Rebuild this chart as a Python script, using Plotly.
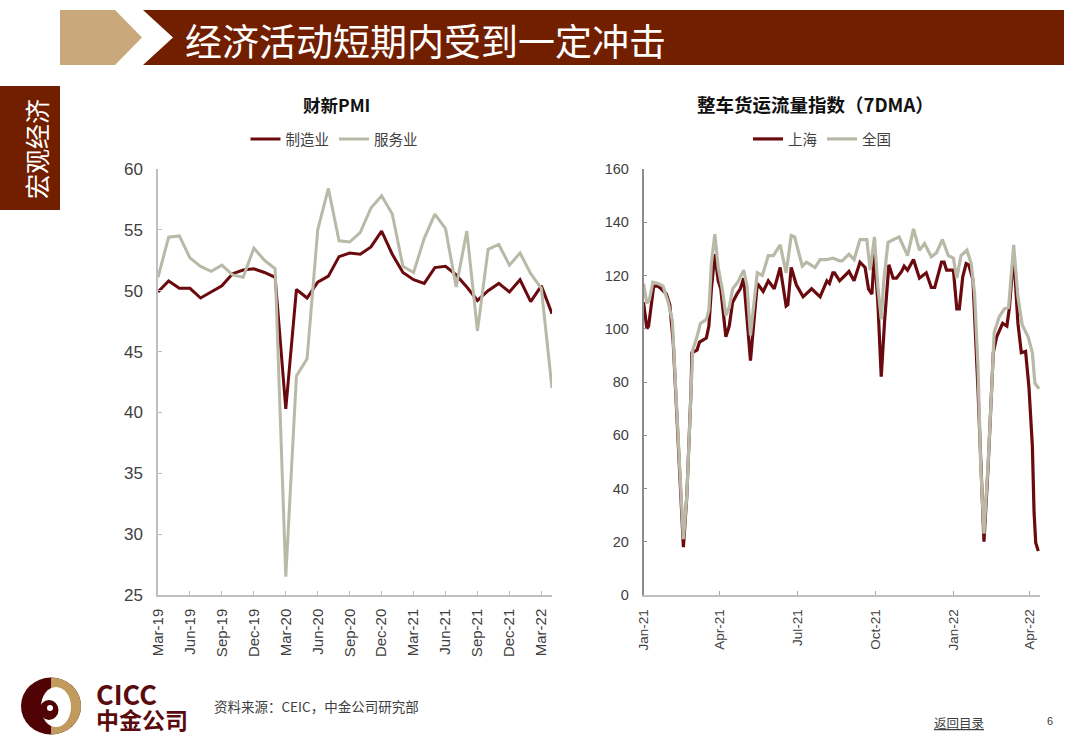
import math
import pandas as pd
import plotly.graph_objects as go

W, H = 1080, 755

# ---------- left chart data ----------
pmi_months = ["Mar-19","Apr-19","May-19","Jun-19","Jul-19","Aug-19","Sep-19","Oct-19","Nov-19","Dec-19",
              "Jan-20","Feb-20","Mar-20","Apr-20","May-20","Jun-20","Jul-20","Aug-20","Sep-20","Oct-20",
              "Nov-20","Dec-20","Jan-21","Feb-21","Mar-21","Apr-21","May-21","Jun-21","Jul-21","Aug-21",
              "Sep-21","Oct-21","Nov-21","Dec-21","Jan-22","Feb-22","Mar-22","Apr-22"]
pmi_manufacturing = [49.9,50.8,50.2,50.2,49.4,49.9,50.4,51.4,51.7,51.8,51.5,51.1,40.3,50.1,49.4,50.7,51.2,52.8,53.1,
                     53.0,53.6,54.9,53.0,51.5,50.9,50.6,51.9,52.0,51.3,50.3,49.2,50.0,50.6,49.9,50.9,49.1,50.4,48.1]
pmi_services = [51.1,54.4,54.5,52.7,52.0,51.6,52.1,51.3,51.1,53.5,52.5,51.8,26.5,43.0,44.4,55.0,58.4,54.1,54.0,
                54.8,56.8,57.8,56.3,52.0,51.5,54.3,56.3,55.1,50.3,54.9,46.7,53.4,53.8,52.1,53.1,51.4,50.2,42.0]
pmi_ticks = pmi_months[0:37:3]

# ---------- right chart data (days since 2021-01-01) ----------
sh_days = [0,4,6,9,12,17,21,27,31,35,38,41,44,47,51,54,56,57,63,66,74,77,80,84,88,91,97,101,105,110,114,118,121,126,
           134,141,147,154,161,168,170,174,180,188,198,208,216,219,223,225,231,242,248,255,261,265,269,272,276,280,284,
           289,294,298,304,307,311,318,325,333,339,343,351,354,357,365,369,372,376,380,383,388,394,397,401,406,410,
           412,416,423,428,431,436,441,445,450,454,458,460,462,465]
sh_vals = [110,100,101,109,116,116,115,113,109,95,77,59,39,18,37,58,77,91,92,95,96.5,101,115,128,118,115,97,101,110,113,115,
           119,107,88,117,114,118,115,123,108.5,109,123,116.5,112,115,112,118,117,121,121,118,121.5,118,125,123,115,113,
           128,110,82,103,124,119,119,121.5,123.5,122,126,119,121,115.5,115.5,125,125,122,122,107.5,107.5,119.5,124.5,124,118.5,
           77,49,20,49,77,91,97,102,101,108,128,102,91,91.5,78,56,31,19.5,16.5]
nat_days = [0,4,7,11,17,23,29,34,38,41,44,47,51,54,56,58,63,67,74,77,80,84,88,93,97,101,105,111,118,122,126,134,140,147,
            153,161,168,174,178,187,192,202,208,216,223,231,234,242,248,255,263,267,272,276,280,283,288,294,301,311,318,
            325,331,339,345,352,359,365,369,374,381,386,390,394,397,401,406,410,413,419,425,430,436,441,446,453,458,461,466]
nat_vals = [117,109.5,111,117.5,117,116,110,103,77,59.5,39.5,21,37,58,77,92,97,102,103.5,107,124.5,135.5,123,114.5,105,108,115,
            117.5,122,116,97.5,121,120,127.5,127.5,131.5,121,135,134.5,123.5,125,123,126,126,126.5,125.5,125.5,128,126,133.5,
            133.5,122,134.5,116,103.5,118,132.5,133.5,134.5,127.5,137.5,129.5,132,127,128.5,133.5,127.5,126.5,119,127.5,129.5,
            124.5,113,85.5,50,23,50,77,98.5,104.5,107.5,108,131.5,112,101.5,97,91,79.5,77.5]
freight_tick_dates = ["2021-01-01","2021-04-01","2021-07-01","2021-10-01","2022-01-01","2022-04-01"]
freight_tick_labels = ["Jan-21","Apr-21","Jul-21","Oct-21","Jan-22","Apr-22"]

day0 = pd.Timestamp("2021-01-01")
sh_dates = [day0 + pd.Timedelta(days=d) for d in sh_days]
nat_dates = [day0 + pd.Timedelta(days=d) for d in nat_days]

# ---------- colours / fonts ----------
MAROON = "#6B0A0E"
GREY = "#B9B9A8"
BANNER = "#721F00"
TAN = "#C9A97C"
CJK = "Noto Sans CJK SC"
LAT = "Liberation Sans"
TXT = "#404040"

def px(x): return x / W
def py(y): return 1 - y / H

fig = go.Figure()
fig.add_trace(go.Scatter(x=pmi_months, y=pmi_manufacturing, mode="lines", name="制造业",
                         line=dict(color=MAROON, width=3), xaxis="x", yaxis="y", legend="legend"))
fig.add_trace(go.Scatter(x=pmi_months, y=pmi_services, mode="lines", name="服务业",
                         line=dict(color=GREY, width=3), xaxis="x", yaxis="y", legend="legend"))
fig.add_trace(go.Scatter(x=sh_dates, y=sh_vals, mode="lines", name="上海",
                         line=dict(color=MAROON, width=3.2), xaxis="x2", yaxis="y2", legend="legend2"))
fig.add_trace(go.Scatter(x=nat_dates, y=nat_vals, mode="lines", name="全国",
                         line=dict(color=GREY, width=3.2), xaxis="x2", yaxis="y2", legend="legend2"))

def rect_path(points):
    return "M " + " L ".join(f"{px(a)} {py(b)}" for a, b in points) + " Z"

def poly(points, color):
    return dict(type="path", xref="paper", yref="paper", path=rect_path(points),
                fillcolor=color, line=dict(width=0), layer="below")

def ell(cx, cy, rx, ry, color):
    return dict(type="circle", xref="paper", yref="paper", x0=px(cx-rx), x1=px(cx+rx), y0=py(cy+ry), y1=py(cy-ry),
                fillcolor=color, line=dict(width=0), layer="below")

def half_ellipse(cx, cy, rx, ry):
    return [(cx + rx*math.sin(math.radians(t)), cy - ry*math.cos(math.radians(t))) for t in range(0, 181, 10)]

shapes = [
    poly([(60,10),(115,10),(142,37.5),(115,65),(60,65)], TAN),
    poly([(143,10),(1064,10),(1064,65),(143,65),(173,37.5)], BANNER),
    poly([(0,86),(60,86),(60,210),(0,210)], BANNER),
    ell(51,706,30,28.5,"#4F0305"),
    poly(half_ellipse(51,706,30,28.5), "#C19A5E"),
    ell(56,707,15,20,"#FFFFFF"),
    ell(49,710,9.5,10,"#4F0305"),
    ell(50,708,3,3,"#FFFFFF"),
]

def note(x, y, text, size, color=TXT, font=CJK, anchor="left", angle=0):
    return dict(xref="paper", yref="paper", x=px(x), y=py(y), text=text, showarrow=False, xanchor=anchor,
                yanchor="middle", textangle=angle, align="left", font=dict(family=font, size=size, color=color))

logo_text = "<b><span style='font-size:27px'>CICC</span><br><span style='font-size:23px'>中金公司</span></b>"

annotations = [
    note(183, 40, "经济活动短期内受到一定冲击", 37, "#FFFFFF"),
    note(36, 149, "宏观经济", 25, "#FFFFFF", anchor="center", angle=-90),
    note(336, 104, "<b>财新PMI</b>", 17.5, "#111111", anchor="center"),
    note(815, 104, "<b>整车货运流量指数（7DMA）</b>", 18.5, "#111111", anchor="center"),
    note(94, 705, logo_text, 18.5, "#5A0B0E"),
    note(212, 706, "资料来源：CEIC，中金公司研究部", 13.5, TXT),
    note(932, 722, "<u>返回目录</u>", 12.5, TXT),
    note(1050, 721, "6", 11, TXT, font=LAT, anchor="center"),
]

def yax(rng, dt, dom_color, size, anchor, standoff):
    return dict(range=rng, dtick=dt, domain=[py(595), py(169)], anchor=anchor, showgrid=False, zeroline=False,
                automargin=False, showline=True, linecolor=dom_color, linewidth=1.5, ticks="inside", ticklen=4,
                tickcolor=dom_color, tickwidth=1, ticklabelstandoff=standoff,
                tickfont=dict(family=LAT, size=size, color=TXT))

fig.update_layout(
    width=W, height=H, margin=dict(l=0, r=0, t=0, b=0, pad=0, autoexpand=False),
    paper_bgcolor="white", plot_bgcolor="white",
    showlegend=True, shapes=shapes, annotations=annotations, font=dict(family=CJK),
    xaxis=dict(type="category", categoryorder="array", categoryarray=pmi_months, range=[0, 37], automargin=False,
               domain=[px(158), px(552)], anchor="y", tickmode="array", tickvals=pmi_ticks, ticktext=pmi_ticks,
               tickangle=-90, showgrid=False, showline=True, linecolor="#BFBFBF", linewidth=1.5,
               ticks="inside", ticklen=4, tickcolor="#BFBFBF", ticklabelstandoff=6,
               tickfont=dict(family=LAT, size=15, color=TXT)),
    yaxis=yax([25, 60], 5, "#BFBFBF", 17, "x", 10),
    xaxis2=dict(type="date", range=["2021-01-01", "2022-04-13"], domain=[px(643.5), px(1040)], anchor="y2",
                automargin=False, tickmode="array", tickvals=freight_tick_dates, ticktext=freight_tick_labels,
                tickangle=-90, showgrid=False, showline=True, linecolor="#BFBFBF", linewidth=1.5, ticks="inside",
                ticklen=4, tickcolor="#A6A6A6", ticklabelstandoff=7,
                tickfont=dict(family=LAT, size=13.5, color=TXT)),
    yaxis2=yax([0, 160], 20, "#8C8C8C", 14.5, "x2", 10),
    legend=dict(orientation="h", x=px(334), y=py(139), xanchor="center", yanchor="middle", itemwidth=30,
                bgcolor="rgba(0,0,0,0)", font=dict(family=CJK, size=14.5, color=TXT), tracegroupgap=0),
    legend2=dict(orientation="h", x=px(822), y=py(139), xanchor="center", yanchor="middle", itemwidth=30,
                 bgcolor="rgba(0,0,0,0)", font=dict(family=CJK, size=14.5, color=TXT), tracegroupgap=0),
)

fig.write_html("out.html", post_script="document.body.style.margin='0';", config={"displayModeBar": False})
